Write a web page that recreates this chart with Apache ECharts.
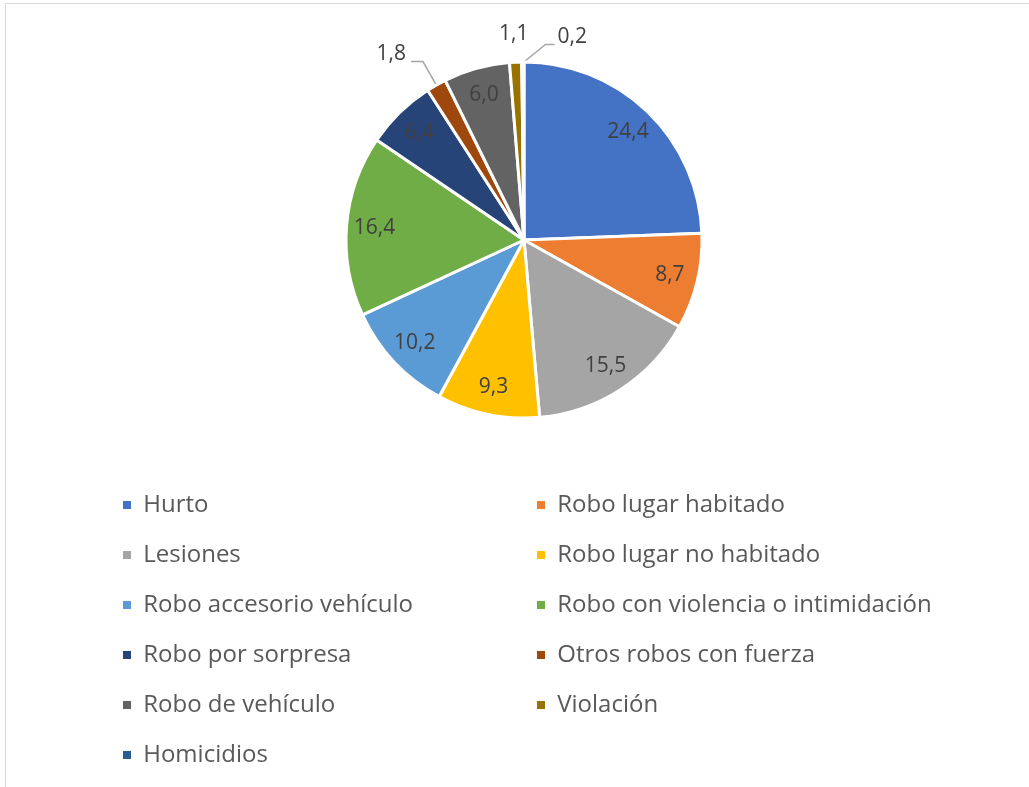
<!DOCTYPE html>
<html>
<head>
<meta charset="utf-8">
<script src="https://cdn.jsdelivr.net/npm/echarts@6/dist/echarts.min.js"></script>
<style>
  html, body { margin: 0; padding: 0; background: #fff; }
  #frame { position: absolute; left: 5px; top: 3px; width: 1024px; height: 784px;
           border-top: 1px solid #d9d9d9; border-left: 1px solid #d9d9d9; }
  #chart { position: absolute; left: 0; top: 0; width: 1029px; height: 787px; }
</style>
</head>
<body>
<div id="frame"></div>
<div id="chart"></div>
<script>
// categorias y porcentajes
var categories = ["Hurto", "Robo lugar habitado", "Lesiones", "Robo lugar no habitado",
    "Robo accesorio vehículo", "Robo con violencia o intimidación", "Robo por sorpresa",
    "Otros robos con fuerza", "Robo de vehículo", "Violación", "Homicidios"];
var values = [24.4, 8.7, 15.5, 9.3, 10.2, 16.4, 6.4, 1.8, 6.0, 1.1, 0.2];
var colors = ["#4472C4", "#ED7D31", "#A5A5A5", "#FFC000", "#5B9BD5", "#70AD47",
    "#264478", "#9E480E", "#636363", "#997300", "#255E91"];
var leftLegend = [0, 2, 4, 6, 8, 10];
var rightLegend = [1, 3, 5, 7, 9];

var fmt = function (p) { return p.value.toFixed(1).replace(".", ","); };
var isSmall = function (v) { return v < 2; };

var mainData = [], labelData = [];
for (var i = 0; i < categories.length; i++) {
    var small = isSmall(values[i]);
    mainData.push({
        name: categories[i],
        value: values[i],
        itemStyle: { color: colors[i] },
        label: { show: small },
        labelLine: { show: small && i !== 9 }
    });
    labelData.push({
        name: categories[i],
        value: values[i],
        label: { show: !small }
    });
}

// etiquetas de los sectores pequeños, junto al borde superior
var smallLabels = function (params) {
    var r = params.rect;
    if (params.dataIndex === 9) {
        return { x: r.x + r.width / 2 - 3, y: r.y - 26, align: "center", verticalAlign: "middle" };
    }
    if (params.dataIndex === 10) {
        var x0 = r.x + r.width - 1, y0 = r.y + 1;
        return {
            x: x0 + 33, y: y0 - 24, align: "left", verticalAlign: "middle",
            labelLinePoints: [[x0, y0], [x0 + 21, y0 - 17], [x0 + 30, y0 - 17]]
        };
    }
    if (params.dataIndex === 7) {
        return { dy: -8 };
    }
    return {};
};

var legendStyle = {
    orient: "vertical",
    itemWidth: 10,
    itemHeight: 10,
    itemGap: 26,
    icon: "rect",
    selectedMode: false,
    formatter: function (name) { return " " + name; },
    textStyle: { fontFamily: "Open Sans", fontSize: 24, color: "#595959" }
};

var myChart = echarts.init(document.getElementById("chart"));
var option = {
    animation: false,
    legend: [
        echarts.util.extend({ left: 116, top: 488, data: leftLegend.map(function (k) { return categories[k]; }) }, legendStyle),
        echarts.util.extend({ left: 530, top: 488, data: rightLegend.map(function (k) { return categories[k]; }) }, legendStyle)
    ],
    series: [{
        type: "pie",
        center: [524, 240],
        radius: 178,
        startAngle: 90,
        avoidLabelOverlap: false,
        itemStyle: { borderColor: "#fff", borderWidth: 3 },
        label: {
            position: "outside",
            formatter: fmt,
            fontFamily: "Open Sans",
            fontSize: 21,
            color: "#404040"
        },
        labelLine: { length: 27, length2: 12, lineStyle: { color: "#a6a6a6", width: 1.5 } },
        labelLayout: smallLabels,
        data: mainData
    }, {
        // serie transparente solo para ubicar las etiquetas interiores
        type: "pie",
        center: [524, 240],
        radius: [116, 178],
        startAngle: 90,
        silent: true,
        itemStyle: { color: "rgba(0,0,0,0)" },
        label: {
            position: "inside",
            formatter: fmt,
            fontFamily: "Open Sans",
            fontSize: 21,
            color: "#404040"
        },
        data: labelData
    }]
};
myChart.setOption(option);
</script>
</body>
</html>
